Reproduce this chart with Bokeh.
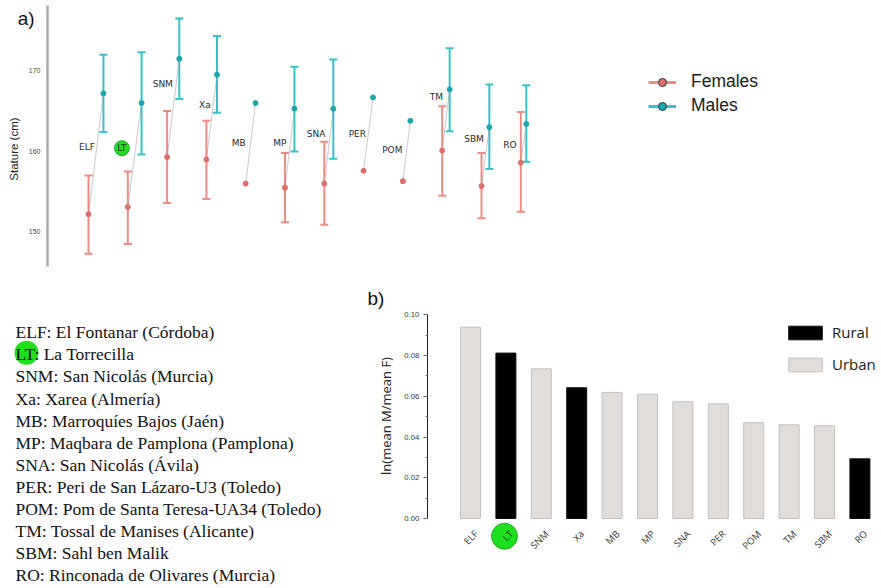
import numpy as np
from bokeh.plotting import figure
from bokeh.models import (ColumnDataSource, Whisker, TeeHead, Legend, LegendItem,
                          FixedTicker, SingleIntervalTicker, NumeralTickFormatter, Range1d)
from bokeh.layouts import column, row
from bokeh.transform import factor_cmap, dodge
from bokeh.core.properties import value
from bokeh.embed import file_html
from bokeh.resources import INLINE

nan = float("nan")

# ---------------- data ----------------
sites = ["ELF", "LT", "SNM", "Xa", "MB", "MP", "SNA", "PER", "POM", "TM", "SBM", "RO"]
highlight = "LT"

female_mean = [152.2, 153.1, 159.3, 159.0, 156.0, 155.5, 156.0, 157.6, 156.3, 160.1, 155.7, 158.6]
female_low = [147.3, 148.5, 153.6, 154.1, nan, 151.2, 150.9, nan, nan, 154.5, 151.7, 152.5]
female_high = [157.0, 157.5, 165.0, 163.8, nan, 159.8, 161.2, nan, nan, 165.6, 159.8, 164.9]

male_mean = [167.2, 166.0, 171.5, 169.5, 166.0, 165.3, 165.3, 166.7, 163.8, 167.7, 163.0, 163.4]
male_low = [162.4, 159.6, 166.5, 164.8, nan, 160.0, 159.1, nan, nan, 162.5, 157.8, 158.7]
male_high = [172.0, 172.3, 176.5, 174.3, nan, 170.5, 171.4, nan, nan, 172.8, 168.3, 168.2]

# layout helpers for panel a (horizontal dodge of males, label placement)
male_shift = [0.38, 0.35, 0.31, 0.27, 0.25, 0.24, 0.23, 0.24, 0.19, 0.19, 0.20, 0.14]
label_shift = [-0.04, -0.15, -0.11, -0.04, -0.18, -0.13, -0.21, -0.16, -0.27, -0.15, -0.19, -0.28]
label_y = [160.6, 160.4, 168.3, 165.8, 161.0, 161.0, 162.1, 162.2, 160.2, 166.8, 161.5, 160.8]

ratio = [0.0939, 0.0812, 0.0735, 0.0642, 0.0619, 0.0610, 0.0573, 0.0563, 0.0470, 0.0460, 0.0455, 0.0293]
setting = ["Urban", "Rural", "Urban", "Rural", "Urban", "Urban", "Urban", "Urban", "Urban", "Urban", "Urban", "Rural"]

site_names = [
    "ELF: El Fontanar (Córdoba)",
    "LT: La Torrecilla",
    "SNM: San Nicolás (Murcia)",
    "Xa: Xarea (Almería)",
    "MB: Marroquíes Bajos (Jaén)",
    "MP: Maqbara de Pamplona (Pamplona)",
    "SNA: San Nicolás (Ávila)",
    "PER: Peri de San Lázaro-U3 (Toledo)",
    "POM: Pom de Santa Teresa-UA34 (Toledo)",
    "TM: Tossal de Manises (Alicante)",
    "SBM: Sahl ben Malik",
    "RO: Rinconada de Olivares (Murcia)",
]

F_BAR, F_DOT = "#EF8B85", "#DC6F69"
M_BAR, M_DOT = "#38C1C6", "#1CA5AC"
GREEN, GREEN_LINE = "#1FE01F", "#149A14"

n = len(sites)
hi = sites.index(highlight)
xi = np.arange(n, dtype=float)
xm = xi + np.array(male_shift)
lx = xi + np.array(label_shift)

# ---------------- panel a ----------------
pa = figure(width=881, height=280, x_range=Range1d(-2.2392, 20.178), y_range=Range1d(143.98, 178.72),
            output_backend="svg", toolbar_location=None, x_axis_location=None,
            min_border=0, min_border_left=0, min_border_right=0, min_border_top=0, min_border_bottom=0)
pa.grid.visible = False
pa.outline_line_color = None

ya = pa.yaxis[0]
ya.fixed_location = -1.0433
ya.bounds = (145.77, 178.09)
ya.ticker = FixedTicker(ticks=[150, 160, 170])
ya.major_label_text_font = "Liberation Sans"
ya.major_label_text_font_size = "7px"
ya.major_label_text_color = "#444444"
ya.major_label_standoff = 7
ya.major_tick_out = 0
ya.major_tick_in = 0
ya.minor_tick_out = 0
ya.minor_tick_in = 0
ya.axis_line_color = "#A8A8A8"
ya.axis_line_width = 2.5

pa.text(x=[-1.908], y=[160.29], text=["Stature (cm)"], angle=np.pi / 2,
        text_font=value("Liberation Sans"), text_font_size="11.5px", text_align="center",
        text_baseline="middle", text_color="#222222")
pa.text(x=[-1.799], y=[176.52], text=["a)"], text_font=value("Liberation Sans"),
        text_font_size="19px", text_align="left", text_baseline="middle", text_color="#111111")

src_pts = ColumnDataSource(dict(site=sites, xf=xi, xm=xm, fm=female_mean, mm=male_mean, lx=lx, ly=label_y))

# connecting lines female -> male
pa.segment(x0="xf", y0="fm", x1="xm", y1="mm", source=src_pts, line_color="#A0A0A0",
           line_width=0.7, line_alpha=0.8)

ok = [i for i in range(n) if not np.isnan(female_low[i])]
src_err = ColumnDataSource(dict(
    xf=[xi[i] for i in ok], xm=[xm[i] for i in ok],
    flo=[female_low[i] for i in ok], fhi=[female_high[i] for i in ok],
    mlo=[male_low[i] for i in ok], mhi=[male_high[i] for i in ok]))

for base, lo, up, col in [("xf", "flo", "fhi", F_BAR), ("xm", "mlo", "mhi", M_BAR)]:
    w = Whisker(source=src_err, base=base, lower=lo, upper=up, dimension="height",
                line_color=col, line_width=2,
                upper_head=TeeHead(size=8, line_color=col, line_width=2),
                lower_head=TeeHead(size=8, line_color=col, line_width=2))
    pa.add_layout(w)

pa.scatter(x="xf", y="fm", source=src_pts, size=5, fill_color=F_DOT, line_color=F_DOT)
pa.scatter(x="xm", y="mm", source=src_pts, size=5, fill_color=M_DOT, line_color=M_DOT)

# site labels
pa.scatter(x=[lx[hi]], y=[label_y[hi]], size=15, fill_color=GREEN, line_color=GREEN_LINE, line_width=0.8)
pa.text(x="lx", y="ly", text="site", source=src_pts, text_font=value("DejaVu Sans"),
        text_font_size="9px", text_align="center", text_baseline="middle", text_color="#2a2a2a")

# legend (panel a) - legend-only renderers (hidden in the plot)
lf = pa.line(x="xf", y="fm", source=src_pts, line_color=F_BAR, line_width=3, visible=False)
sf = pa.scatter(x="xf", y="fm", source=src_pts, fill_color=F_DOT, line_color="#333333",
                line_width=1, visible=False)
lm = pa.line(x="xm", y="mm", source=src_pts, line_color=M_BAR, line_width=3, visible=False)
sm = pa.scatter(x="xm", y="mm", source=src_pts, fill_color=M_DOT, line_color="#333333",
                line_width=1, visible=False)
leg_a = Legend(items=[LegendItem(label="Females", renderers=[lf, sf]),
                      LegendItem(label="Males", renderers=[lm, sm])],
               location=(648, 164), orientation="vertical",
               glyph_width=28, glyph_height=20, label_standoff=15, spacing=3,
               padding=0, margin=0, border_line_color=None, background_fill_alpha=0,
               inactive_fill_alpha=0,
               label_text_font="Liberation Sans", label_text_font_size="17.5px",
               label_text_color="#1a1a1a")
pa.add_layout(leg_a)

# ---------------- site list ----------------
pl = figure(width=340, height=306, x_range=Range1d(0, 340), y_range=Range1d(306, 0),
            x_axis_type=None, y_axis_type=None, output_backend="svg", toolbar_location=None,
            min_border=0, min_border_left=0, min_border_right=0, min_border_top=0, min_border_bottom=0)
pl.grid.visible = False
pl.outline_line_color = None
list_y = [51.7 + 22.1 * i for i in range(n)]
pl.scatter(x=[26], y=[list_y[hi] - 1.5], size=24, fill_color=GREEN, line_color=None)
pl.text(x=[15] * n, y=list_y, text=site_names, text_font=value("Liberation Serif"),
        text_font_size="17.5px", text_align="left", text_baseline="middle", text_color="#111111")

# ---------------- panel b ----------------
pb = figure(width=541, height=306, x_range=Range1d(-3.6723, 11.610), y_range=Range1d(-0.03338, 0.11684),
            output_backend="svg", toolbar_location=None, x_axis_location=None,
            min_border=0, min_border_left=0, min_border_right=0, min_border_top=0, min_border_bottom=0)
pb.grid.visible = False
pb.outline_line_color = None

src_b = ColumnDataSource(dict(site=sites, xi=xi, ratio=ratio, setting=setting))
bars = pb.vbar(x="xi", top="ratio", bottom=0, width=0.565, source=src_b,
               fill_color=factor_cmap("setting", ["#000000", "#E1DDDB"], ["Rural", "Urban"]),
               line_color=factor_cmap("setting", ["#111111", "#C4C0BE"], ["Rural", "Urban"]),
               line_width=1)

yb = pb.yaxis[0]
yb.fixed_location = -1.2232
yb.bounds = (0, 0.1)
yb.ticker = SingleIntervalTicker(interval=0.02, num_minor_ticks=2)
yb.formatter = NumeralTickFormatter(format="0.00")
yb.major_label_text_font = "Liberation Sans"
yb.major_label_text_font_size = "7.7px"
yb.major_label_text_color = "#333333"
yb.major_label_standoff = 4
yb.major_tick_out = 4
yb.major_tick_in = 0
yb.minor_tick_out = 2
yb.minor_tick_in = 0
yb.axis_line_color = "#222222"
yb.major_tick_line_color = "#555555"
yb.minor_tick_line_color = "#777777"

pb.text(x=[-2.401], y=[0.05032], text=["ln(mean M/mean F)"], angle=np.pi / 2,
        text_font=value("Open Sans"), text_font_size="13px", text_align="center",
        text_baseline="middle", text_color="#222222")
pb.text(x=[-2.91], y=[0.108], text=["b)"], text_font=value("Liberation Sans"),
        text_font_size="19px", text_align="left", text_baseline="middle", text_color="#111111")

pb.scatter(x=[hi - 0.04], y=[-0.0087], size=26, fill_color=GREEN, line_color=GREEN_LINE, line_width=0.8)
pb.text(x=dodge("xi", 0.16), y=-0.0067, text="site", source=src_b, angle=np.pi / 4,
        text_font=value("Open Sans"), text_font_size="9.5px", text_align="right",
        text_baseline="middle", text_color="#333333")

leg_b = Legend(items=[LegendItem(label="Rural", renderers=[bars], index=setting.index("Rural")),
                      LegendItem(label="Urban", renderers=[bars], index=setting.index("Urban"))],
               location=(444, 212), orientation="vertical",
               glyph_width=42, glyph_height=17, label_standoff=6, spacing=12,
               padding=0, margin=0, border_line_color=None, background_fill_alpha=0,
               label_text_font="Open Sans", label_text_font_size="15px", label_text_color="#1a1a1a")
pb.add_layout(leg_b)

layout = column(pa, row(pl, pb))
open("out.html", "w").write(file_html(layout, INLINE))
